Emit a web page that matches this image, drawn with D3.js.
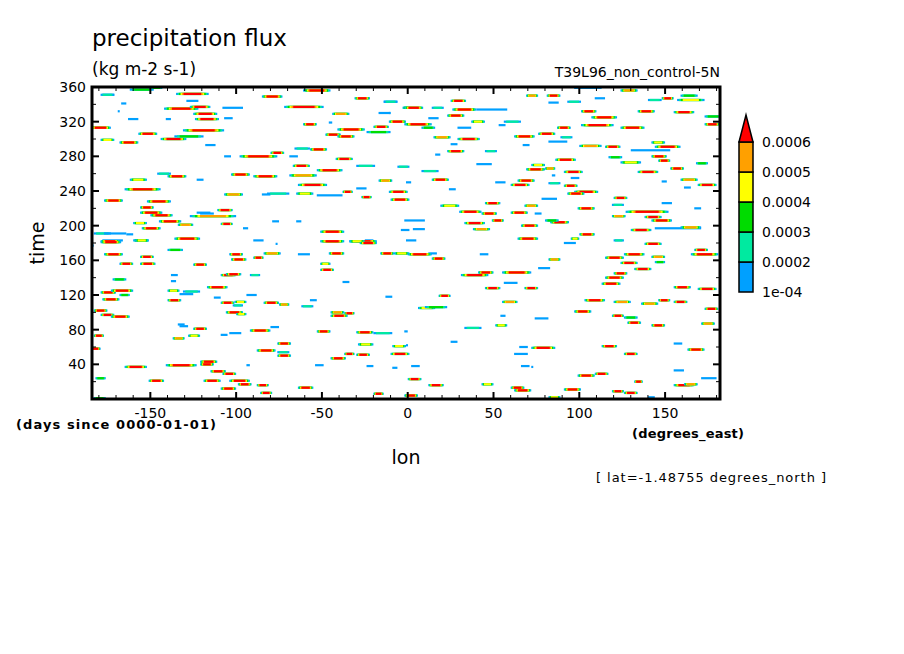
<!DOCTYPE html>
<html><head><meta charset="utf-8">
<script src="https://cdn.jsdelivr.net/npm/d3@7"></script>
<style>body{margin:0;background:#fff}text{font-family:"DejaVu Sans",sans-serif}</style>
</head><body><svg id="chart" width="904" height="654"></svg>
<script>
// streaks: [lonStart, lonEnd, time, peakLevel] (levels 1..6)
var streaks = [
[-162,-148,357,3],[-150,-143,359,3],[-135,-116,352,6],[-179,-171,351,2],[-85,-73,349,6],[-61,-45,356,6],
[-142,-122,335,6],[-127,-115,337,6],[-108,-96,336,1],[-72,-49,337,6],[-31,-22,347,6],[-14,-6,343,2],
[-3,1,336,3],[-125,-111,329,6],[-124,-110,323,6],[-44,-34,329,5],[-11,-10,330,1],[-11,-1,320,6],
[-61,-53,317,6],[-41,-25,311,6],[-20,-11,314,6],[-24,-10,308,3],[-157,-146,306,6],[-131,-107,310,6],
[-185,-173,313,6],[-48,-39,305,6],[-41,-31,303,6],[-179,-171,299,4],[-168,-157,296,6],[-144,-129,300,6],
[-136,-119,303,3],[-57,-47,288,6],[-66,-57,289,2],[-98,-76,280,6],[-80,-72,284,6],[-42,-32,277,6],
[-30,-19,269,2],[-6,1,268,2],[-67,-57,269,6],[-53,-38,264,6],[-140,-129,257,6],[-146,-138,260,2],
[-103,-92,259,6],[-90,-76,257,6],[-69,-53,258,5],[-17,-9,252,5],[-162,-152,253,4],[-64,-47,247,6],
[-165,-144,242,6],[-38,-32,239,6],[-27,-21,233,6],[-11,0,239,6],[-10,1,230,6],[-177,-166,229,6],
[-152,-138,228,6],[-107,-96,236,5],[-82,-69,237,2],[-65,-55,237,4],[-53,-38,235,1],[-156,-148,221,6],
[-156,-143,215,6],[-111,-102,218,6],[-127,-100,211,5],[-150,-137,212,6],[-145,-132,205,6],[-160,-152,203,4],
[-155,-144,197,6],[-134,-125,201,5],[-109,-102,202,6],[-136,-121,185,6],[-179,-168,182,6],[-160,-151,183,4],
[-51,-37,193,6],[-49,-39,182,6],[-34,-18,182,6],[-183,-173,191,2],[-177,-164,191,1],
[-2,9,336,6],[14,21,336,2],[26,40,334,6],[40,58,334,1],[25,34,344,6],[69,76,350,5],[81,89,350,6],
[93,101,343,2],[104,110,360,6],[97,113,359,1],[124,134,356,5],[140,148,345,2],[148,155,347,6],
[159,169,350,3],[157,173,345,4],[155,167,331,6],[173,183,326,3],[173,182,317,6],[23,33,327,6],
[-2,14,317,6],[8,16,313,3],[37,45,320,4],[56,66,320,2],[87,95,313,6],[101,120,316,6],[107,122,325,6],
[101,110,332,6],[124,138,313,6],[134,144,332,6],[62,74,303,6],[76,86,306,6],[29,42,300,6],[15,25,302,5],
[89,96,302,2],[100,113,292,5],[115,124,291,6],[144,159,291,6],[142,150,296,4],[130,153,287,1],
[23,33,286,6],[45,52,286,2],[117,125,279,3],[142,151,280,6],[146,153,275,6],[86,98,276,6],[72,80,270,4],
[80,86,266,5],[69,80,265,6],[91,102,262,6],[124,136,273,4],[134,146,262,6],[153,161,266,6],[168,175,272,3],
[8,18,263,2],[14,24,253,6],[64,74,252,6],[60,71,247,6],[82,89,249,2],[91,99,246,6],[97,111,239,6],
[93,103,237,6],[159,169,253,5],[169,180,247,6],[120,128,232,6],[119,126,224,2],[45,54,226,6],
[19,30,223,4],[68,76,223,5],[127,152,216,6],[183,184,216,6],[30,43,216,6],[43,52,214,6],[60,70,215,6],
[99,109,220,6],[119,127,211,5],[142,154,206,6],[138,148,210,6],[33,45,203,6],[49,56,206,6],[66,76,200,6],
[83,94,204,6],[80,88,206,3],[38,48,196,5],[130,142,195,6],[159,171,198,5],[100,109,190,6],[95,100,185,4],
[120,126,183,2],[64,76,185,6],[-2,10,206,1],
[-179,-167,181,6],[-159,-151,183,4],[-51,-37,182,6],[-34,-25,182,4],[-28,-18,180,6],[-140,-131,172,3],
[-177,-166,167,6],[-156,-148,164,6],[-104,-96,167,6],[-90,-84,163,6],[-84,-74,168,5],[-46,-37,168,6],
[-16,-8,168,6],[-8,1,168,4],[-168,-160,156,6],[-156,-147,156,6],[-125,-117,155,6],[-103,-94,161,6],
[-51,-43,149,6],[-51,-45,156,4],[-109,-100,143,6],[-106,-97,144,6],[-92,-86,143,2],[-172,-164,138,3],
[-179,-170,123,6],[-173,-160,125,6],[-168,-162,120,3],[-140,-133,125,4],[-131,-121,124,2],[-117,-105,129,6],
[-178,-168,115,6],[-140,-132,114,6],[-109,-101,111,6],[-101,-94,112,4],[-102,-96,108,2],[-84,-75,111,6],
[-75,-69,109,5],[-62,-55,107,2],[-45,-37,100,5],[-37,-31,99,6],[-45,-35,96,6],[-106,-96,100,6],
[-100,-94,98,4],[-183,-175,102,6],[-179,-171,97,6],[-173,-162,95,6],[-125,-117,81,6],[-92,-80,79,6],
[-53,-45,78,6],[-30,-20,77,6],[-20,-9,76,2],[-137,-130,70,5],[-128,-121,73,4],[-183,-177,73,6],
[-76,-68,64,6],[-29,-20,63,4],[-9,-1,61,4],[-88,-77,56,6],[-76,-68,50,6],[-76,-69,54,2],[-185,-179,58,6],
[-37,-31,52,6],[-30,-22,51,6],[-10,1,52,6],[-45,-36,47,6],[-121,-111,43,6],[-121,-113,40,6],[-165,-152,37,6],
[-115,-106,32,6],[-108,-100,29,6],[-141,-123,39,6],[-88,-81,16,6],[-109,-100,12,6],[-20,-14,6,6],[-99,-91,17,6],
[-64,-55,13,6],[-151,-142,21,6],[-119,-109,21,6],[-104,-92,21,6],[-86,-79,7,6],[-182,-176,24,3],[-183,-176,1,3],
[0,14,167,6],[14,22,162,6],[138,148,179,6],[115,126,163,6],[126,138,167,6],[142,150,164,5],[165,181,167,6],
[167,175,172,6],[124,134,157,6],[144,150,158,3],[31,47,143,6],[41,50,146,6],[55,72,146,6],[82,89,161,5],
[120,128,145,6],[115,126,140,6],[113,124,133,6],[132,142,150,6],[45,54,128,6],[68,76,128,6],[155,165,129,6],
[169,180,127,6],[18,25,119,6],[55,64,112,5],[103,115,114,6],[120,130,112,5],[136,146,110,5],[146,153,114,6],
[155,163,112,6],[6,16,105,4],[10,23,106,3],[97,107,101,6],[119,126,96,6],[126,134,94,3],[128,136,88,6],
[142,150,85,6],[173,181,104,6],[171,179,87,5],[51,58,85,4],[33,43,82,2],[72,86,59,6],[113,122,61,6],
[126,134,52,6],[163,173,57,6],[62,70,52,1],[99,109,27,6],[109,117,29,6],[0,8,23,6],[12,21,16,6],
[60,68,13,6],[62,72,10,6],[91,101,11,6],[119,126,9,6],[132,137,20,6],[155,167,16,6],[161,169,17,5],
[-2,6,4,6],[82,89,2,4],[126,134,7,6],[43,50,17,4]
];
// single-level (blue) streaks: [lonStart, lonEnd, time]
var blueStreaks = [
[-178,-171,351],[-129,-122,344],[-167,-164,341],[-169,-168,332],[-141,-138,323],[-107,-102,324],
[-14,-6,343],[-17,-10,330],[-46,-44,319],[-118,-112,293],[-107,-103,280],[-30,-24,243],[-69,-64,280],
[-123,-119,253],[-85,-80,236],[-123,-115,215],[-121,-113,214],[-164,-160,190],[-90,-84,183],
[-65,-62,205],[-96,-93,197],[-163,-157,323],[-25,-20,183],[-4,1,195],[-79,-75,205],
[82,88,342],[109,115,347],[12,18,324],[53,57,316],[29,37,313],[82,93,297],[67,71,293],[25,29,294],
[16,19,282],[40,49,271],[84,86,258],[95,100,255],[-1,2,250],[51,57,250],[148,151,251],[161,165,244],
[24,28,242],[78,87,231],[148,154,226],[144,171,197],[167,171,220],[74,78,214],[3,10,196],
[-185,-183,177],[-64,-57,167],[-77,-76,179],[-178,-166,183],[-138,-134,143],[-138,-135,136],
[-38,-34,135],[-133,-125,121],[-113,-109,117],[-57,-53,114],[-134,-130,86],[-80,-75,83],
[-104,-97,76],[-109,-105,74],[-133,-128,84],[-24,-20,38],[-94,-92,39],[-54,-49,39],[-9,-6,36],
[-94,-88,120],[-13,-9,118],[-1,0,62],[-1,5,183],[91,98,180],[42,47,167],[76,83,151],[12,17,168],
[56,64,134],[-2,0,78],[25,29,66],[74,82,93],[54,57,96],[65,70,60],[72,73,37],[2,7,38],[66,71,38],
[155,161,33],[171,180,24],[140,144,2],[155,160,64]
];
var levelColors = ['#00a0ff','#00eaa0','#00dc00','#ffff00','#ffa000','#ff0000'];
var cbarLabels = ['1e-04','0.0002','0.0003','0.0004','0.0005','0.0006'];
var xTicks = [-150,-100,-50,0,50,100,150];
var yTicks = [40,80,120,160,200,240,280,320,360];

var svg = d3.select('#chart');
var pLeft = 92, pRight = 720, pTop = 87, pBottom = 399;
var x = d3.scaleLinear().domain([-184,182]).range([pLeft,pRight]);
var y = d3.scaleLinear().domain([0,360]).range([pBottom,pTop]);
var rowH = 2.2;

var plot = svg.append('g');
plot.append('clipPath').attr('id','clip').append('rect')
	.attr('x',pLeft).attr('y',pTop).attr('width',pRight-pLeft).attr('height',pBottom-pTop);
var marks = plot.append('g').attr('clip-path','url(#clip)');

blueStreaks.forEach(function(d){
	marks.append('rect')
		.attr('x',x(d[0])).attr('y',y(d[2])-rowH/2)
		.attr('width',Math.max(2,x(d[1])-x(d[0]))).attr('height',rowH)
		.attr('fill',levelColors[0]);
});

//nested bands: outer blue, inner core up to peak level
streaks.forEach(function(d){
	var mid = (d[0]+d[1])/2, half = (d[1]-d[0])/2;
	for (var k = 0; k < d[3]; k++){
		var f = 1 - k/d[3]*0.55;
		var a = mid - half*f, b = mid + half*f;
		marks.append('rect')
			.attr('x',x(a)).attr('y',y(d[2])-rowH/2)
			.attr('width',Math.max(1.5,x(b)-x(a))).attr('height',rowH)
			.attr('fill',levelColors[k]);
	}
});

//ticks, inward, all four sides
var ax = plot.append('g').attr('stroke','#000');
d3.range(-180,181,10).forEach(function(v){
	var len = (v % 50 == 0) ? 7 : 4;
	var w = (v % 50 == 0) ? 2 : 1;
	ax.append('line').attr('x1',x(v)).attr('x2',x(v)).attr('y1',pBottom).attr('y2',pBottom-len).attr('stroke-width',w);
	ax.append('line').attr('x1',x(v)).attr('x2',x(v)).attr('y1',pTop).attr('y2',pTop+len).attr('stroke-width',w);
});
d3.range(20,360,20).forEach(function(v){
	var len = (v % 40 == 0) ? 7 : 4;
	var w = (v % 40 == 0) ? 2 : 1;
	ax.append('line').attr('y1',y(v)).attr('y2',y(v)).attr('x1',pLeft).attr('x2',pLeft+len).attr('stroke-width',w);
	ax.append('line').attr('y1',y(v)).attr('y2',y(v)).attr('x1',pRight).attr('x2',pRight-len).attr('stroke-width',w);
});
plot.append('rect').attr('x',pLeft).attr('y',pTop).attr('width',pRight-pLeft).attr('height',pBottom-pTop)
	.attr('fill','none').attr('stroke','#000').attr('stroke-width',3);

var lab = svg.append('g').attr('font-size',14).attr('fill','#000');
xTicks.forEach(function(v){
	lab.append('text').attr('x',x(v)).attr('y',pBottom+19).attr('text-anchor','middle').text(v);
});
yTicks.forEach(function(v){
	lab.append('text').attr('x',pLeft-6).attr('y',y(v)+5).attr('text-anchor','end').text(v);
});

svg.append('text').attr('x',92).attr('y',46).attr('font-size',23).text('precipitation flux');
svg.append('text').attr('x',92).attr('y',75).attr('font-size',17).text('(kg m-2 s-1)');
svg.append('text').attr('x',720).attr('y',77).attr('font-size',14).attr('text-anchor','end').text('T39L96_non_control-5N');
svg.append('text').attr('transform','translate(44,243) rotate(-90)').attr('font-size',19).attr('text-anchor','middle').text('time');
svg.append('text').attr('x',406).attr('y',464).attr('font-size',19).attr('text-anchor','middle').text('lon');
svg.append('text').attr('x',16).attr('y',429).attr('font-size',13).attr('font-weight','bold').attr('textLength',200).text('(days since 0000-01-01)');
svg.append('text').attr('x',632).attr('y',438).attr('font-size',13).attr('font-weight','bold').attr('textLength',112).text('(degrees_east)');
svg.append('text').attr('x',596).attr('y',482).attr('font-size',13).attr('textLength',230).text('[ lat=-1.48755 degrees_north ]');

//colorbar
var cb = svg.append('g');
var cbY = d3.scaleLinear().domain([0,6]).range([292,112]);
levelColors.slice(0,5).forEach(function(c,i){
	cb.append('rect').attr('x',739).attr('y',cbY(i+1)).attr('width',14).attr('height',cbY(i)-cbY(i+1))
		.attr('fill',c).attr('stroke','#000').attr('stroke-width',1.5);
});
cb.append('path').attr('d','M739,'+cbY(5)+' L753,'+cbY(5)+' L746,'+(cbY(6)+3)+' Z')
	.attr('fill',levelColors[5]).attr('stroke','#000').attr('stroke-width',1.5);
cbarLabels.forEach(function(t,i){
	cb.append('text').attr('x',762).attr('y',cbY(i)+5).attr('font-size',14).text(t);
});
</script></body></html>
